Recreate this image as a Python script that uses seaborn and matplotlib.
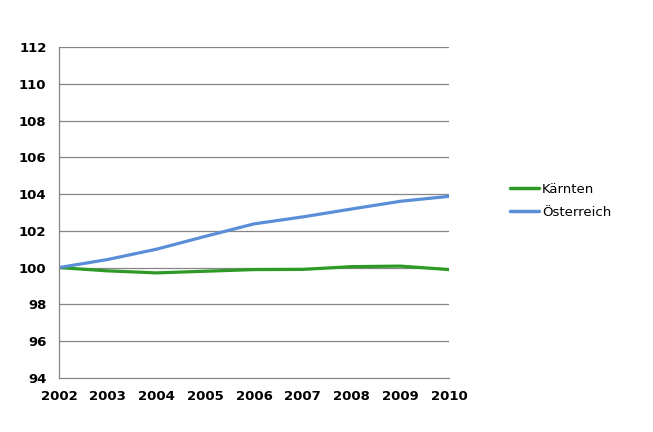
import matplotlib
matplotlib.use("Agg")
import matplotlib.pyplot as plt
import seaborn as sns
import pandas as pd

years = [2002, 2003, 2004, 2005, 2006, 2007, 2008, 2009, 2010]
kaernten = [100.0, 99.82, 99.71, 99.80, 99.89, 99.90, 100.05, 100.08, 99.89]
oesterreich = [100.0, 100.44, 101.0, 101.70, 102.38, 102.76, 103.19, 103.61, 103.88]
series_names = ["Kärnten", "Österreich"]
colors = ["#2e9a26", "#5a8fd8"]
y_ticks = [94, 96, 98, 100, 102, 104, 106, 108, 110, 112]

df = pd.DataFrame({
    "Jahr": years * 2,
    "Wert": kaernten + oesterreich,
    "Region": [series_names[0]] * len(years) + [series_names[1]] * len(years),
})

sns.set_style("white")
plt.rcParams["font.family"] = ["DejaVu Sans"]
plt.rcParams["text.color"] = "black"
plt.rcParams["xtick.labelcolor"] = "black"
plt.rcParams["ytick.labelcolor"] = "black"

fig = plt.figure(figsize=(6.53, 4.32), dpi=100)
ax = fig.add_axes([59 / 653, 1 - 377.7 / 432, 390 / 653, 330.4 / 432])

sns.lineplot(data=df, x="Jahr", y="Wert", hue="Region", palette=colors,
             linewidth=2.3, ax=ax, legend=True)

ax.set_xlim(2002, 2010)
ax.set_ylim(94, 112)
ax.set_yticks(y_ticks)
ax.set_xticks(years)
ax.set_xticklabels([str(y) for y in years])
ax.set_xlabel("")
ax.set_ylabel("")

grid_c = "#868686"
for yv in y_ticks[1:]:
    ax.axhline(yv, color=grid_c, linewidth=0.9, zorder=0)
for s in ["top", "right"]:
    ax.spines[s].set_visible(False)
for s in ["left", "bottom"]:
    ax.spines[s].set_color(grid_c)
    ax.spines[s].set_linewidth(0.9)

ax.tick_params(axis="both", which="major", direction="out", length=4,
               color=grid_c, width=0.9, labelsize=9.5, pad=5,
               labelcolor="black")
for lbl in ax.get_xticklabels() + ax.get_yticklabels():
    lbl.set_fontweight("bold")

leg = ax.legend(loc="center left", bbox_to_anchor=(498 / 653, 1 - 201 / 432),
                bbox_transform=fig.transFigure, frameon=False, fontsize=9.5,
                handlelength=2.2, handletextpad=0.25, labelspacing=0.75)
for line in leg.get_lines():
    line.set_linewidth(2.5)
for t in leg.get_texts():
    t.set_color("black")

fig.savefig("out.png", dpi=100)
